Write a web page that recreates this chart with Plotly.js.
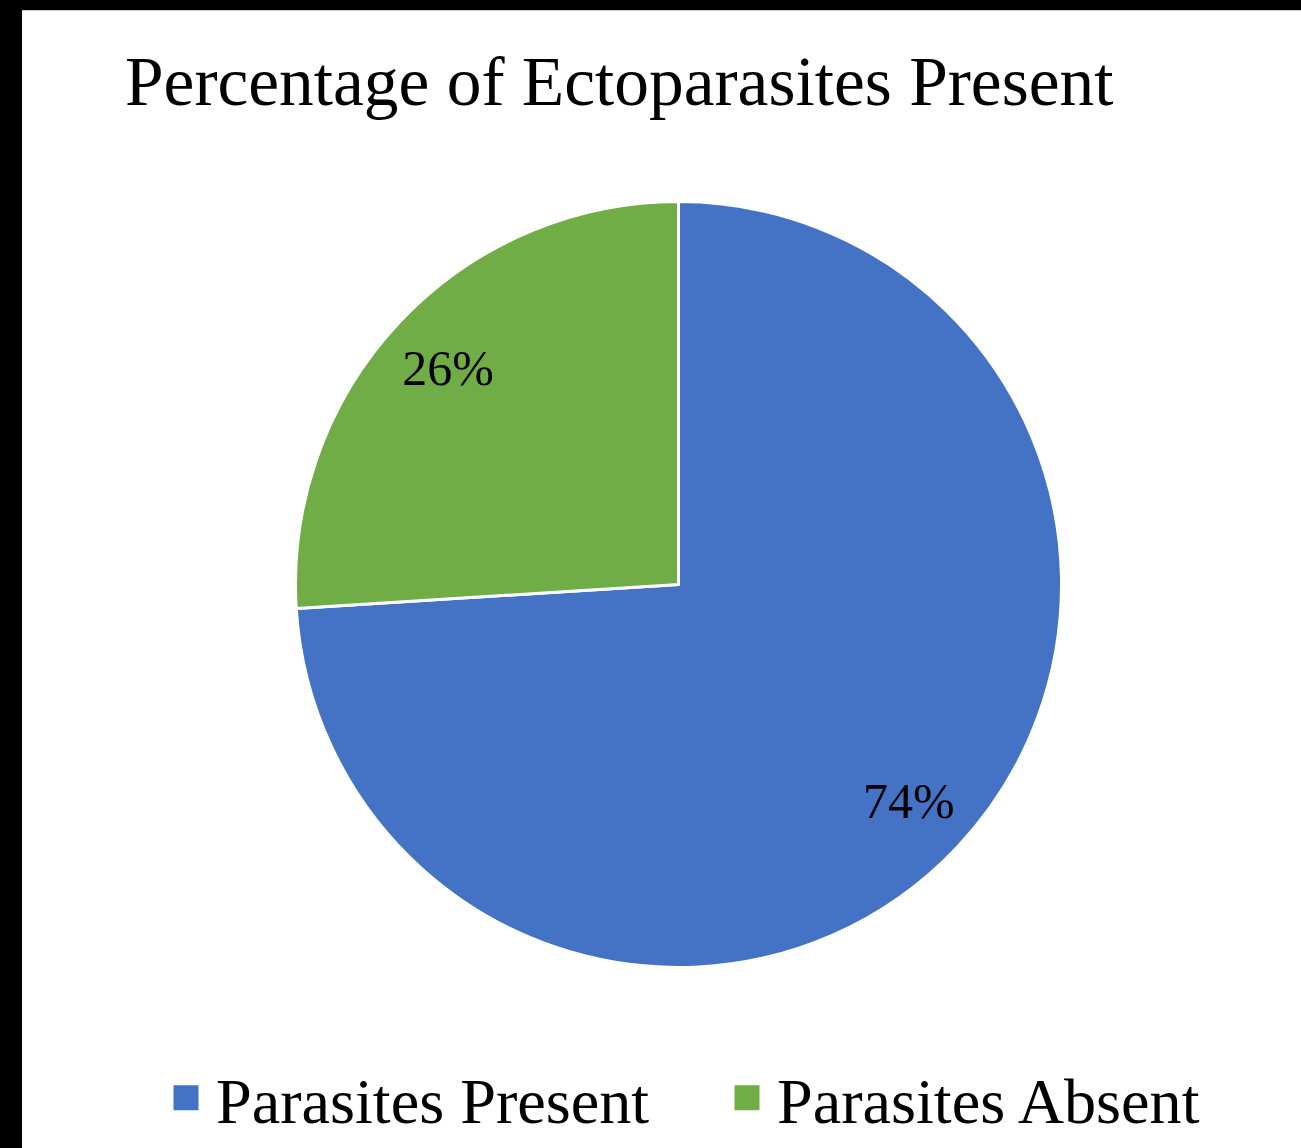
<!DOCTYPE html>
<html>
<head>
<meta charset="utf-8">
<script src="https://cdn.plot.ly/plotly-3.0.1.min.js"></script>
<style>
  html, body { margin: 0; padding: 0; background: #000; width: 1301px; height: 1148px; overflow: hidden; }
  #chart { position: absolute; left: 22px; top: 10px; width: 1279px; height: 1138px; background: #fff; border-top: 1px solid #c8c8c8; box-sizing: border-box; }
</style>
</head>
<body>
<div id="chart"></div>
<script>
const categories = ["Parasites Present", "Parasites Absent"];
const percentages = [74, 26];
const sliceColors = ["#4472C4", "#70AD47"];
const chartTitle = "Percentage of Ectoparasites Present";

const W = 1279, H = 1137;
const FONT = "Liberation Serif, Times New Roman, serif";
const pieDomain = { x: [273.5 / W, 1039.5 / W], y: [1 - 956.5 / H, 1 - 190.5 / H] };

// filled pie (no text)
const pieTrace = {
  type: "pie",
  labels: categories,
  values: percentages,
  sort: false,
  direction: "clockwise",
  rotation: 0,
  marker: { colors: sliceColors, line: { color: "#ffffff", width: 3 } },
  textinfo: "none",
  domain: pieDomain,
  hoverinfo: "none"
};

// transparent ring of the same data, only to place the percentage labels further out
const labelTrace = {
  type: "pie",
  labels: categories,
  values: percentages,
  sort: false,
  direction: "clockwise",
  rotation: 0,
  hole: 0.65,
  showlegend: false,
  marker: { colors: ["rgba(0,0,0,0)", "rgba(0,0,0,0)"], line: { width: 0 } },
  textinfo: "percent",
  texttemplate: "%{percent:.0%}",
  textposition: "inside",
  insidetextorientation: "horizontal",
  textfont: { family: FONT, size: 50, color: "#000000" },
  domain: pieDomain,
  hoverinfo: "none"
};

const layout = {
  width: W,
  height: H,
  margin: { l: 0, r: 0, t: 0, b: 0 },
  paper_bgcolor: "#ffffff",
  title: {
    text: chartTitle,
    font: { family: FONT, size: 69.4, color: "#000000" },
    xref: "container", x: 103 / W, xanchor: "left",
    yref: "container", y: 1 - 70 / H, yanchor: "middle"
  },
  showlegend: true,
  legend: {
    orientation: "h",
    x: 134 / W, xanchor: "left",
    y: 1 - 1087 / H, yanchor: "middle",
    font: { family: FONT, size: 64.2, color: "#000000" },
    itemwidth: 50,
    entrywidth: 496,
    traceorder: "normal"
  }
};

Plotly.newPlot("chart", [pieTrace, labelTrace], layout, { displayModeBar: false, staticPlot: true }).then(function (gd) {
  document.querySelectorAll("#chart .legendpoints path").forEach(function (p) {
    p.setAttribute("d", "M14,14H-14V-14H14Z");
  });
});
</script>
</body>
</html>
